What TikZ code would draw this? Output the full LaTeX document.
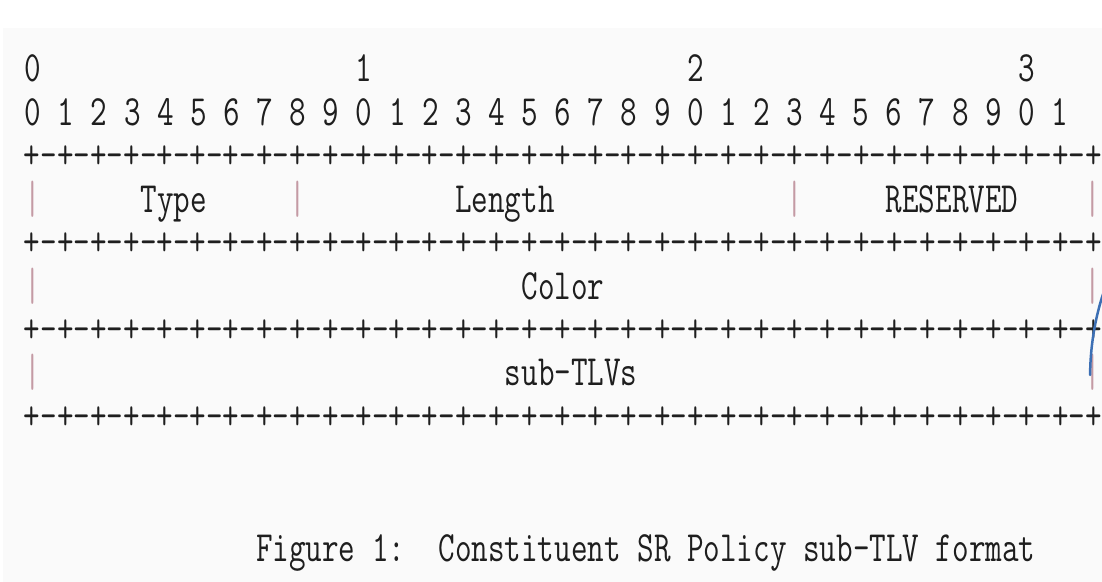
\documentclass[tikz,border=0pt]{standalone}
\usepackage{graphicx}
\usepackage[HTML]{xcolor}
\usepackage{tikz}
\usetikzlibrary{positioning}

\definecolor{ink}{HTML}{1E1E1E}
\definecolor{barpink}{HTML}{C49AA4}
\definecolor{penblue}{HTML}{3C6FB4}
\definecolor{paper}{HTML}{FAFAFA}

% stretch the mono glyphs to the tall, narrow look of the screenshot
\newcommand{\tall}[1]{\scalebox{1}[1.34]{#1}}
\newcommand{\tallbar}{\raisebox{-0.5pt}{\scalebox{1}[1.45]{|}}}
\newcommand{\seprow}{+-+-+-+-+-+-+-+-+-+-+-+-+-+-+-+-+-+-+-+-+-+-+-+-+-+-+-+-+-+-+-+-+}

\tikzset{
  ascii/.style={inner sep=0pt, anchor=base, text=ink,
    font=\fontsize{16.1}{18}\selectfont\ttfamily\frenchspacing},
  bar/.style={ascii, text=barpink},
}

\begin{document}
\begin{tikzpicture}[x=8.28pt, y=-21.7pt]
% page
\useasboundingbox (-1.993,-1.889) rectangle (64.55,11.52);
\fill[white] (-1.993,-1.889) rectangle (64.55,11.52);
\fill[paper] (-1.8,-1.24) rectangle (64.55,11.52);
% bit numbers
\node[ascii] (ten0) at (0,0) {\tall{0}};
\node[ascii] (ten1) at (20,0) {\tall{1}};
\node[ascii] (ten2) at (40,0) {\tall{2}};
\node[ascii] (ten3) at (60,0) {\tall{3}};
\foreach \i in {0,...,31} {
  \pgfmathtruncatemacro\d{mod(\i,10)}
  \node[ascii] (bit\i) at ({2*\i},1) {\tall{\d}};
}
% separator rows
\foreach \r [count=\k] in {2,4,6,8}
  \node[ascii] (sep\k) at (32,\r) {\tall{\seprow}};
% first word
\node[bar] (bar0) at (0,3) {\tallbar};
\node[ascii] (type) at (8.5,3) {\tall{Type}};
\node[bar] (bar1) at (16,3) {\tallbar};
\node[ascii] (length) at (28.5,3) {\tall{Length}};
\node[bar] (bar2) at (46,3) {\tallbar};
\node[ascii] (reserved) at (55.5,3) {\tall{RESERVED}};
\node[bar] (bar3) at (64,3) {\tallbar};
% second word
\node[bar] (bar4) at (0,5) {\tallbar};
\node[ascii] (color) at (32,5) {\tall{Color}};
\node[bar] (bar5) at (64,5) {\tallbar};
% sub-TLVs
\node[bar] (bar6) at (0,7) {\tallbar};
\node[ascii] (subtlvs) at (32.5,7) {\tall{sub-TLVs}};
\node[bar] (bar7) at (64,7) {\tallbar};
% caption
\node[ascii] (cap) at (37,11.05) {\tall{Figure 1:\ \ Constituent SR Policy sub-TLV format}};
% pen stroke at the right edge
\coordinate (pen0) at (63.83,6.75);
\coordinate (pen1) at (64.8,4.68);
\draw[penblue, line width=1.25pt, line cap=round] (pen0) .. controls (63.85,6.0) and (64.2,5.3) .. (pen1);
\end{tikzpicture}
\end{document}
